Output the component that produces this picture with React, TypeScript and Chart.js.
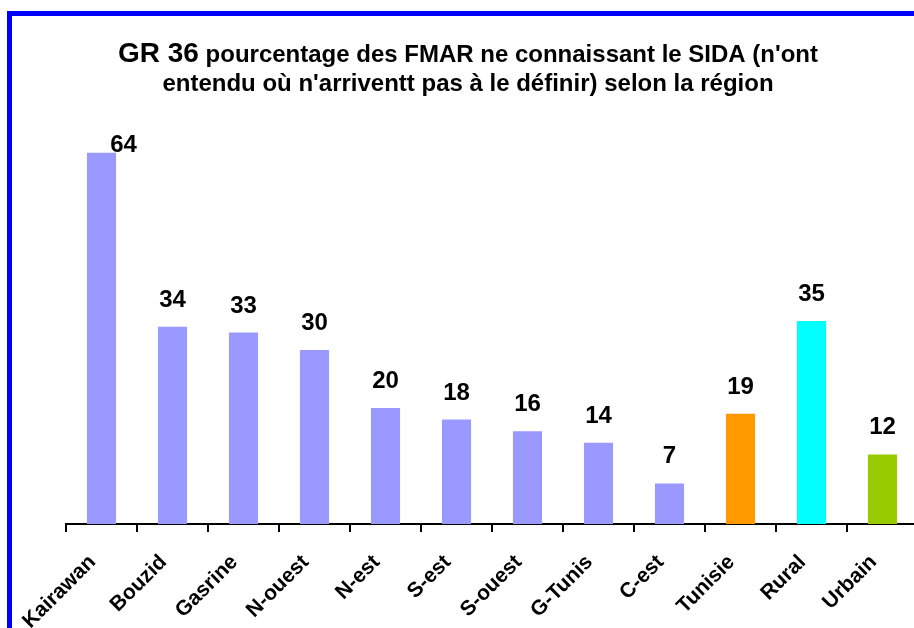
import React, { useEffect, useRef } from "react";
import { Chart, registerables } from "chart.js";

Chart.register(...registerables);

// Régions et groupes de comparaison
const categories = [
  "Kairawan",
  "Bouzid",
  "Gasrine",
  "N-ouest",
  "N-est",
  "S-est",
  "S-ouest",
  "G-Tunis",
  "C-est",
  "Tunisie",
  "Rural",
  "Urbain",
];

// Pourcentage des FMAR ne connaissant pas le SIDA
const values = [64, 34, 33, 30, 20, 18, 16, 14, 7, 19, 35, 12];

const titleLead = "GR 36";
const titleRest = " pourcentage des FMAR ne connaissant le SIDA (n'ont";
const titleLine2 = "entendu où n'arriventt pas à le définir) selon la région";

const REGION = "#9999FF";
const barColors = [
  REGION, REGION, REGION, REGION, REGION, REGION, REGION, REGION, REGION,
  "#FF9900", "#00FFFF", "#99CC00",
];

const FONT = "'Liberation Sans', Arial, Helvetica, sans-serif";

const CANVAS_W = 934;
const CANVAS_H = 628;

// White page with a thick blue frame
const framePlugin = {
  id: "frame",
  beforeDraw(chart: Chart) {
    const { ctx } = chart;
    ctx.save();
    ctx.fillStyle = "#ffffff";
    ctx.fillRect(0, 0, chart.width, chart.height);
    ctx.strokeStyle = "#0000FF";
    ctx.lineWidth = 5;
    ctx.strokeRect(9.5, 13.5, chart.width - 2, chart.height + 40);
    ctx.restore();
  },
};

// Two-line title, the chart number set larger than the rest
const titlePlugin = {
  id: "mixedTitle",
  afterDraw(chart: Chart) {
    const { ctx } = chart;
    const cx = 468;
    ctx.save();
    ctx.fillStyle = "#000000";
    ctx.textBaseline = "alphabetic";
    ctx.textAlign = "left";
    const bigFont = `bold 28px ${FONT}`;
    const smallFont = `bold 24px ${FONT}`;
    ctx.font = bigFont;
    const w1 = ctx.measureText(titleLead).width;
    ctx.font = smallFont;
    const w2 = ctx.measureText(titleRest).width;
    let x = cx - (w1 + w2) / 2;
    ctx.font = bigFont;
    ctx.fillText(titleLead, x, 62);
    x += w1;
    ctx.font = smallFont;
    ctx.fillText(titleRest, x, 62);
    ctx.textAlign = "center";
    ctx.fillText(titleLine2, cx, 91);
    ctx.restore();
  },
};

// Value labels above each bar; a label with no room above goes beside the bar top
const valueLabelPlugin = {
  id: "valueLabels",
  afterDatasetsDraw(chart: Chart) {
    const { ctx, chartArea } = chart;
    const meta = chart.getDatasetMeta(0);
    const data = chart.data.datasets[0].data as number[];
    ctx.save();
    ctx.fillStyle = "#000000";
    ctx.font = `bold 24px ${FONT}`;
    ctx.textBaseline = "alphabetic";
    meta.data.forEach((el: any, i: number) => {
      const text = String(data[i]);
      const top = el.y;
      const y = top - 20;
      if (y - 18 < chartArea.top) {
        ctx.textAlign = "left";
        ctx.fillText(text, el.x + el.width * 0.3, top - 1);
      } else {
        ctx.textAlign = "center";
        ctx.fillText(text, el.x, y);
      }
    });
    ctx.restore();
  },
};

export default function App() {
  const canvasRef = useRef<HTMLCanvasElement | null>(null);

  useEffect(() => {
    if (!canvasRef.current) return;
    const chart = new Chart(canvasRef.current, {
      type: "bar",
      data: {
        labels: categories,
        datasets: [
          {
            data: values,
            backgroundColor: barColors,
            borderWidth: 0,
            barPercentage: 1,
            categoryPercentage: 0.41,
          },
        ],
      },
      options: {
        responsive: false,
        devicePixelRatio: 1,
        animation: false,
        layout: { padding: { left: 66, right: 16, top: 118, bottom: 0 } },
        plugins: {
          legend: { display: false },
          title: { display: false },
          tooltip: { enabled: false },
        },
        scales: {
          x: {
            afterFit: (scale: any) => {
              scale.height = 104;
            },
            grid: {
              display: true,
              offset: true,
              drawOnChartArea: false,
              drawTicks: true,
              tickLength: 8,
              color: "#000000",
              lineWidth: 2,
            },
            border: { display: true, color: "#000000", width: 2 },
            ticks: {
              autoSkip: false,
              minRotation: 45,
              maxRotation: 45,
              padding: 18,
              labelOffset: -9,
              color: "#000000",
              font: { family: FONT, size: 21, weight: "bold" },
            },
          },
          y: {
            display: false,
            min: 0,
            max: 70,
          },
        },
      },
      plugins: [framePlugin, titlePlugin, valueLabelPlugin],
    });
    return () => chart.destroy();
  }, []);

  return (
    <div
      style={{
        position: "fixed",
        left: 0,
        top: 0,
        width: 914,
        height: 628,
        overflow: "hidden",
        background: "#ffffff",
      }}
    >
      <canvas
        ref={canvasRef}
        width={CANVAS_W}
        height={CANVAS_H}
        style={{ display: "block", width: CANVAS_W, height: CANVAS_H }}
      />
    </div>
  );
}
